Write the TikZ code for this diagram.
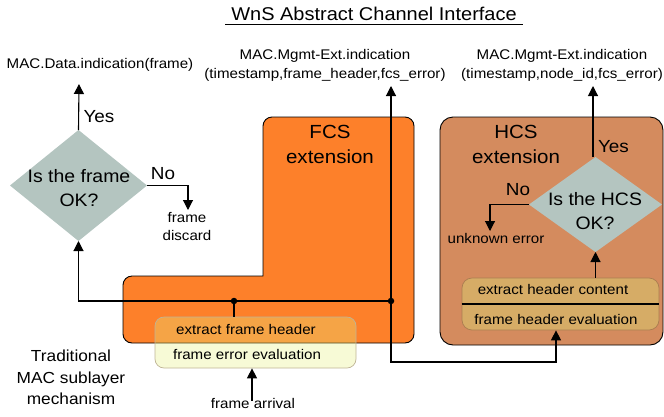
\documentclass[tikz,border=0pt]{standalone}
\usepackage{fontspec}
\setmainfont{Liberation Sans}[FakeStretch=1.08]
\usetikzlibrary{shapes.geometric,arrows.meta,calc}
\definecolor{fcsorange}{RGB}{253,128,42}
\definecolor{hcsbrown}{RGB}{212,139,94}
\definecolor{dgray}{RGB}{180,197,192}
\definecolor{hinner}{RGB}{214,172,102}
\definecolor{hborder}{RGB}{170,125,80}
\definecolor{fyellow}{RGB}{230,240,130}
\definecolor{fborder}{RGB}{190,180,150}
\tikzset{
  conn/.style={line width=1.1pt, draw=black},
  arr/.style={conn, -{Triangle[length=10pt,width=10pt]}},
  lbl/.style={inner sep=0pt, outer sep=0pt, align=center, text=black},
  titlef/.style={lbl, font=\fontsize{18.5}{22}\selectfont},
  maclbl/.style={lbl, font=\fontsize{14}{18.5}\selectfont},
  smalll/.style={lbl, font=\fontsize{14}{18}\selectfont},
  bigl/.style={lbl, font=\fontsize{19}{25}\selectfont},
  dtext/.style={lbl, font=\fontsize{18}{24.5}\selectfont},
  ynl/.style={lbl, font=\fontsize{17.5}{20}\selectfont},
  tradl/.style={lbl, font=\fontsize{16}{21.5}\selectfont},
  decision/.style={diamond, fill=dgray, inner sep=0pt, outer sep=0pt},
  dot/.style={circle, fill=black, inner sep=0pt, minimum size=6.5pt},
}
\begin{document}
\begin{tikzpicture}[x=1pt,y=-1pt]
\useasboundingbox (0,0) rectangle (664,416);

% title
\node[titlef] (title) at (374,14) {WnS Abstract Channel Interface};
\draw[line width=0.9pt] (225,24) -- (523,24);

% FCS extension (L shape)
\draw[fill=fcsorange, line width=0.9pt, rounded corners=9, line cap=rect]
  (263,276) -- (263,117) -- (414,117) -- (414,343) -- (123,343) -- (123,276) -- (263,276);
\node[bigl] (fcslbl) at (330,144) {FCS\\extension};

% HCS extension
\node[draw=black, line width=0.9pt, fill=hcsbrown, rounded corners=13, minimum width=223pt, minimum height=228pt, inner sep=0pt] (hcs) at (551.5,231) {};
\node[bigl] (hcslbl) at (516,144) {HCS\\extension};

% frame box (semi-transparent)
\node[draw=fborder, line width=0.7pt, fill=fyellow, fill opacity=0.33, draw opacity=1, rounded corners=9, minimum width=201pt, minimum height=51pt, inner sep=0pt] (fbox) at (255.5,342.5) {};
\node[smalll] (efh) at (246,329.5) {extract frame header};
\node[smalll] (fee) at (247,354.5) {frame error evaluation};

% HCS inner box
\node[draw=hborder, line width=0.7pt, fill=hinner, rounded corners=10, minimum width=197pt, minimum height=52pt, inner sep=0pt] (hbox) at (560.5,304) {};
\draw[conn] (hbox.west) -- (hbox.east);
\node[smalll] (ehc) at (553,289.5) {extract header content};
\node[smalll] (fhe) at (556,319.5) {frame header evaluation};

% decisions
\node[decision, minimum width=137pt, minimum height=111pt] (d1) at (78.5,185.5) {};
\node[dtext] (d1t) at (79,188) {Is the frame\\OK?};
\node[decision, minimum width=133pt, minimum height=95pt] (d2) at (595.5,204.5) {};
\node[dtext] (d2t) at (595,211) {Is the HCS\\OK?};

% labels
\node[maclbl] (data) at (100,65) {MAC.Data.indication(frame)};
\node[maclbl] (mgmt1) at (325,65.5) {MAC.Mgmt-Ext.indication\\(timestamp,frame\_header,fcs\_error)};
\node[maclbl] (mgmt2) at (562,65.5) {MAC.Mgmt-Ext.indication\\(timestamp,node\_id,fcs\_error)};
\node[smalll] (disc) at (187,226) {frame\\discard};
\node[smalll] (unk) at (496,238) {unknown error};
\node[tradl] (trad) at (71,377.5) {Traditional\\MAC sublayer\\mechanism};
\node[smalll] (arrival) at (253,403) {frame arrival};
\node[ynl] (yes1) at (99,117) {Yes};
\node[ynl] (no1) at (163,173.5) {No};
\node[ynl] (yes2) at (613.5,147) {Yes};
\node[ynl] (no2) at (518,190) {No};

% coordinates
\coordinate (j1) at (234,301);
\coordinate (j2) at (391,301);
\coordinate (tipdata) at (79,84);
\coordinate (tipm1) at (391,86);
\coordinate (tipm2) at (593,86);
\coordinate (tipdisc) at (188,210);
\coordinate (tipunk) at (490,231);
\coordinate (c3) at (556,362);

% connectors
\draw[arr] (d1.north) -- (tipdata);
\draw[arr] (d1.east) -| (tipdisc);
\draw[arr] (j2) -| (d1.south);
\draw[conn] (j1) -- (j1 |- fbox.north);
\draw[arr] (j2) -- (tipm1);
\draw[arr] (j2) |- (c3) -- (c3 |- hbox.south);
\draw[arr] ([yshift=-3pt]arrival.north -| 252,0) -- (fbox.south -| 252,0);
\draw[arr] (d2.north -| tipm2) -- (tipm2);
\draw[arr] (d2.west) -| (tipunk);
\draw[arr] (hbox.north -| d2.south) -- (d2.south);
\node[dot] (dot1) at (j1) {};
\node[dot] (dot2) at (j2) {};
\end{tikzpicture}
\end{document}
